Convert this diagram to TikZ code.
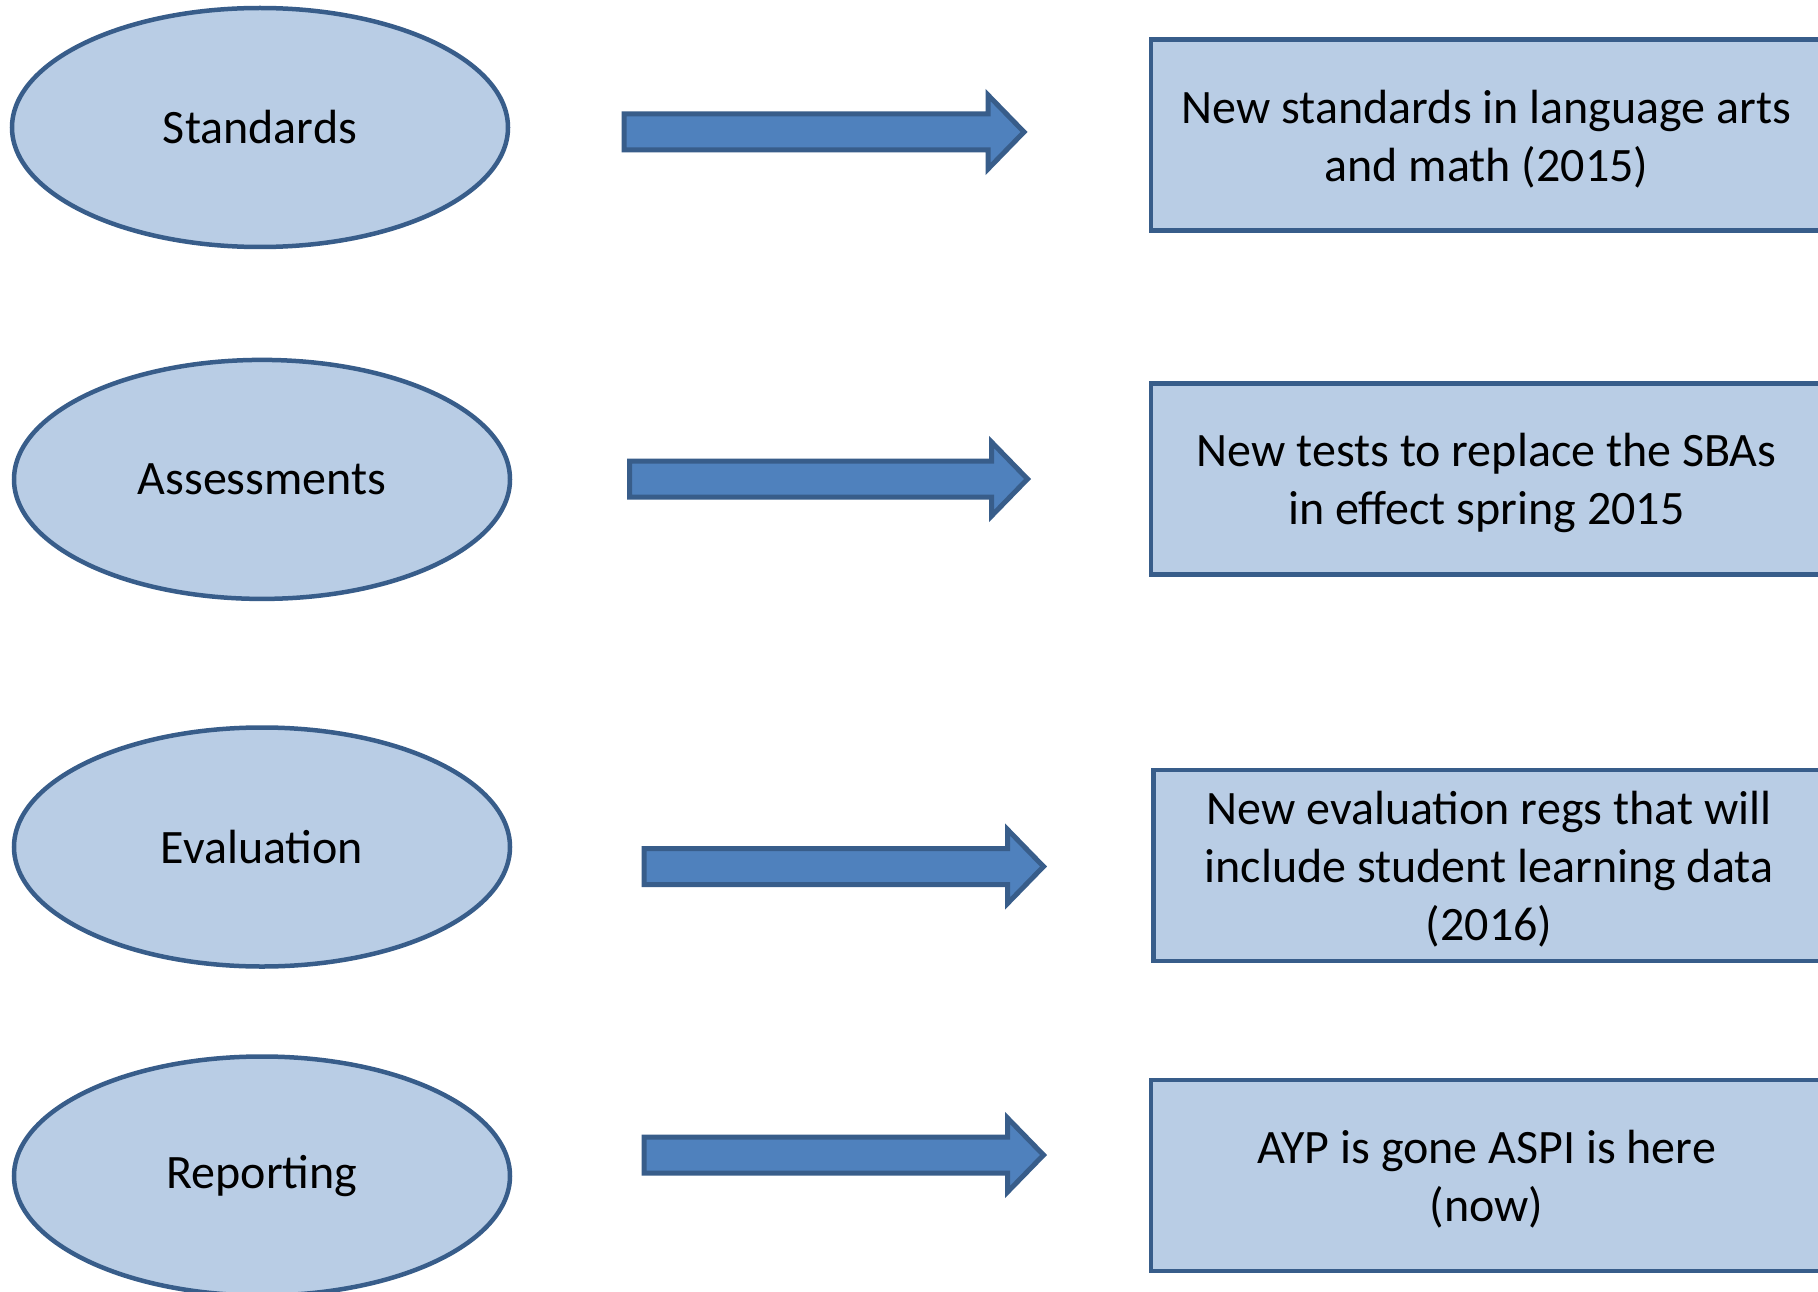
\documentclass[tikz,border=0pt]{standalone}
\usepackage{fontspec}
\setmainfont{Carlito}
\usetikzlibrary{shapes.geometric}
\definecolor{lightfill}{HTML}{B9CDE5}
\definecolor{edgeblue}{HTML}{385D8A}
\definecolor{arrowfill}{HTML}{4F81BD}
\newcommand\blockarr[3]{\draw[blockarrow] (#1,#3-18) -- (#2-36,#3-18) -- (#2-36,#3-37) -- (#2,#3) -- (#2-36,#3+37) -- (#2-36,#3+18) -- (#1,#3+18) -- cycle;}
\begin{document}
\begin{tikzpicture}[x=1pt,y=-1pt,
  oval/.style={ellipse,draw=edgeblue,fill=lightfill,line width=4.5pt,minimum width=496pt,minimum height=239pt,inner sep=0pt,font=\fontsize{48}{59}\selectfont},
  infobox/.style={rectangle,draw=edgeblue,fill=lightfill,line width=4.5pt,minimum width=671pt,minimum height=191pt,inner sep=0pt},
  boxtext/.style={inner sep=0pt,align=center,font=\fontsize{48}{58}\selectfont},
  blockarrow/.style={draw=edgeblue,fill=arrowfill,line width=5pt,line join=miter}]
\useasboundingbox (0,0) rectangle (1818,1292);
\fill[white] (0,0) rectangle (1818,1292);

\node[oval] (e1) at (260,127.5) {Standards};
\node[oval] (e2) at (262,479.4) {Assessments};
\node[oval] (e3) at (262,847) {Evaluation};
\node[oval] (e4) at (262,1176) {Reporting};

\blockarr{624}{1024}{132}
\blockarr{629.5}{1027.5}{479}
\blockarr{644}{1043.5}{866.5}
\blockarr{644}{1043.5}{1155}

\node[infobox] (b1) at (1486.5,135) {};
\node[infobox] (b2) at (1486.5,479) {};
\node[infobox] (b3) at (1489,865.5) {};
\node[infobox] (b4) at (1486.5,1175.5) {};
\node[boxtext] (t1) at ([yshift=-4pt]b1.center) {New standards in language arts\\and math (2015)};
\node[boxtext] (t2) at ([yshift=-4pt]b2.center) {New tests to replace the SBAs\\in effect spring 2015};
\node[boxtext] (t3) at ([yshift=-4pt]b3.center) {New evaluation regs that will\\include student learning data\\(2016)};
\node[boxtext] (t4) at ([yshift=-4pt]b4.center) {AYP is gone ASPI is here\\(now)};
\end{tikzpicture}
\end{document}
